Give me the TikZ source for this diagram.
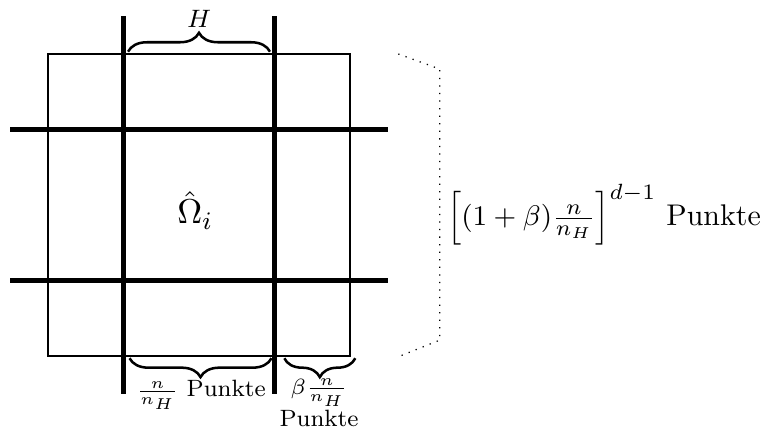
\documentclass[tikz,border=0pt]{standalone}
\usepackage{amsmath}
\usepackage{amssymb}
\usetikzlibrary{decorations.pathreplacing,positioning,calc}
\tikzset{
  gridline/.style={line width=1.6pt},
  brc/.style={decorate,decoration={brace,amplitude=6pt},thick},
  brcdown/.style={decorate,decoration={brace,amplitude=6pt,mirror},thick},
  dotline/.style={dotted,thin},
  smalllbl/.style={font=\fontsize{7.5}{9}\selectfont}
}

\begin{document}
\begin{tikzpicture}[x=0.8426cm,y=0.8426cm]
    \useasboundingbox (-0.636,-0.967) rectangle (9.457,4.715);
    % thin square (subdomain with overlap)
    \draw[thin] (0,0) rectangle (4,4);
    % thick grid
    \draw[gridline] (-0.5,1) -- (4.5,1);
    \draw[gridline] (-0.5,3) -- (4.5,3);
    \draw[gridline] (1,-0.5) -- (1,4.5);
    \draw[gridline] (3,-0.5) -- (3,4.5);
    \node[font=\fontsize{11}{13}\selectfont] (om) at (1.95,1.93) {$\hat{\Omega}_i$};
    % braces
    \coordinate (ta) at (1.06,4.03);
    \coordinate (tb) at (2.94,4.03);
    \draw[brc] (ta) -- (tb);
    \node[font=\footnotesize] (h) at (2,4.47) {$H$};
    \coordinate (ba) at (1.08,-0.03);
    \coordinate (bb) at (2.96,-0.03);
    \draw[brcdown] (ba) -- (bb);
    \node[smalllbl] (lb1) at (2.03,-0.52) {$\frac{n}{n_H}$ Punkte};
    \coordinate (bc) at (3.13,-0.03);
    \coordinate (bd) at (4.07,-0.03);
    \draw[brcdown] (bc) -- (bd);
    \node[smalllbl, align=center] (lb2) at (3.59,-0.62) {$\beta\frac{n}{n_H}$\\Punkte};
    % dotted bracket to the right
    \coordinate (d1) at (4.64,4.0);
    \coordinate (d2) at (5.19,3.8);
    \coordinate (d3) at (5.19,0.21);
    \coordinate (d4) at (4.64,-0.01);
    \draw[dotline] (d1) -- (d2) -- (d3) -- (d4);
    \node[anchor=west, inner sep=0pt, font=\fontsize{9.5}{11.5}\selectfont] (pts) at (5.28,1.87) {$\Big[(1+\beta)\tfrac{n}{n_H}\Big]^{d-1}$ Punkte};
\end{tikzpicture}
\end{document}
